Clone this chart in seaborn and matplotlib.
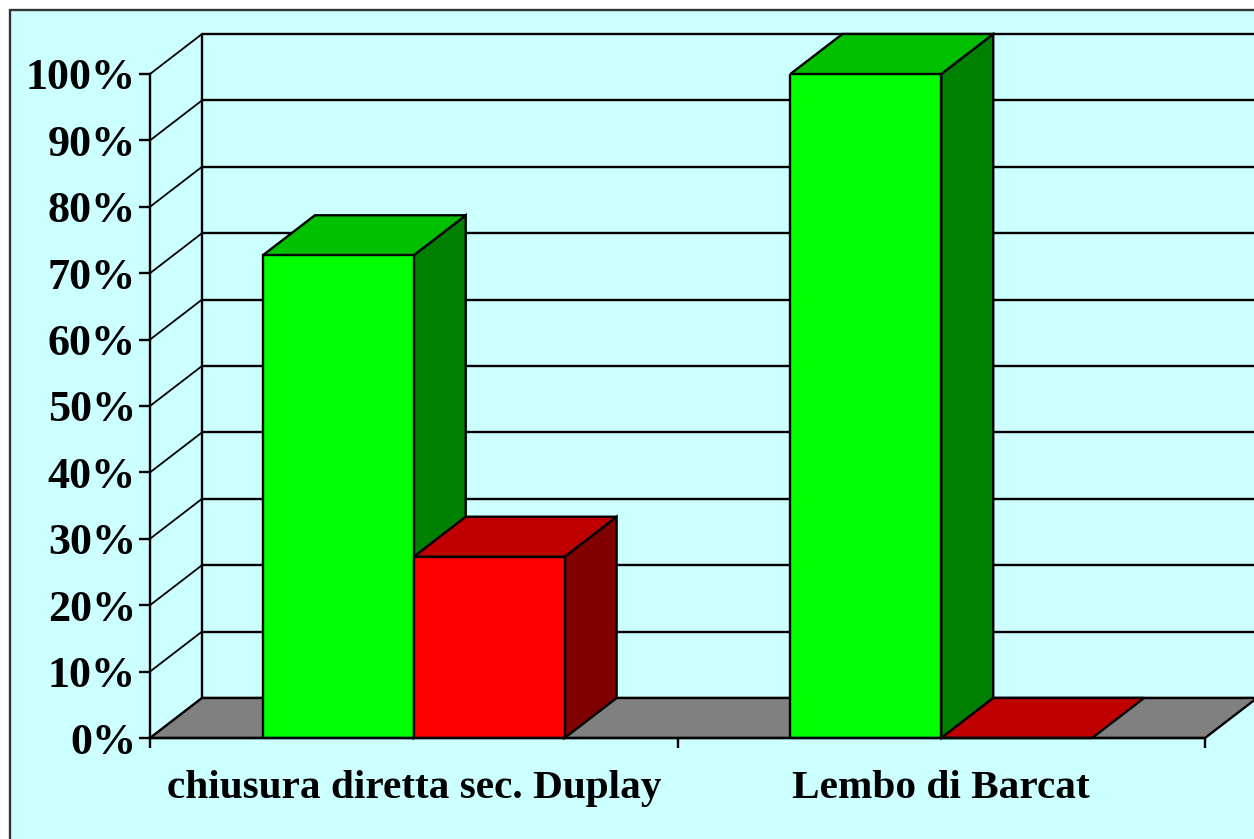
import matplotlib
matplotlib.use("Agg")
import matplotlib.pyplot as plt
import matplotlib.transforms as mtrans
from matplotlib.patches import Polygon, Rectangle
import pandas as pd
import seaborn as sns

# === Data ===
groups = ["chiusura diretta sec. Duplay", "Lembo di Barcat"]
series_names = ["si", "no"]
si_values = [72.7, 100]
no_values = [27.3, 0]
y_ticks = list(range(0, 101, 10))

front_colors = ["#00FF00", "#FF0000"]
top_colors = ["#00C000", "#C00000"]
side_colors = ["#008000", "#800000"]
bg_color = "#CCFFFF"
floor_color = "#808080"

df = pd.DataFrame({
    "group": groups * 2,
    "series": [series_names[0]] * 2 + [series_names[1]] * 2,
    "value": si_values + no_values,
})

# === Style ===
W, H = 1254, 839
DEPTH_X, DEPTH_Y = 52, 40  # pixels, the fake 3D offset
LW = 1.7

sns.set_theme(style="ticks")
plt.rcParams.update({
    "font.family": "Liberation Serif",
    "font.weight": "bold",
    "axes.facecolor": "none",
    "figure.facecolor": "white",
    "text.color": "black",
    "xtick.color": "black",
    "ytick.color": "black",
    "axes.edgecolor": "black",
})

fig = plt.figure(figsize=(W / 100, H / 100), dpi=100)
ax = fig.add_axes([150 / W, (H - 738) / H, 1055 / W, 664 / H])

# chart area, its border runs off the right and bottom of the picture
fig.add_artist(Rectangle((10 / W, -0.05), 1.1, 1.05 - 10 / H, transform=fig.transFigure,
                         facecolor=bg_color, edgecolor="#333333", linewidth=LW, zorder=-5))

# === Front faces ===
sns.barplot(data=df, x="group", y="value", hue="series", order=groups, hue_order=series_names,
            palette=dict(zip(series_names, front_colors)), width=0.572, gap=0, dodge=True,
            saturation=1, edgecolor="black", linewidth=LW, legend=False, ax=ax)
ax.set_xlim(-0.5, 1.5)
ax.set_ylim(0, 100)
ax.set_xlabel("")
ax.set_ylabel("")

fig.canvas.draw()


def to_back(pt):
    return (pt[0] + DEPTH_X, pt[1] + DEPTH_Y)


def add_face(points, color, z):
    ax.add_patch(Polygon(points, closed=True, facecolor=color, edgecolor="black", linewidth=LW,
                         transform=mtrans.IdentityTransform(), clip_on=False, zorder=z,
                         joinstyle="miter"))


# === Back wall, left wall and floor ===
x_left, x_right = ax.get_xlim()
for v in y_ticks:
    front = ax.transData.transform((x_left, v))
    end = ax.transData.transform((x_right, v))
    back = to_back(front)
    ax.plot([front[0], back[0]], [front[1], back[1]], color="black", lw=1.3,
            transform=mtrans.IdentityTransform(), clip_on=False, zorder=1)
    ax.plot([back[0], to_back(end)[0]], [back[1], back[1]], color="black", lw=LW,
            transform=mtrans.IdentityTransform(), clip_on=False, zorder=1)

wall_low = to_back(ax.transData.transform((x_left, 0)))
wall_high = to_back(ax.transData.transform((x_left, 100)))
ax.plot([wall_low[0], wall_high[0]], [wall_low[1], wall_high[1]], color="black", lw=LW,
        transform=mtrans.IdentityTransform(), clip_on=False, zorder=1)

floor_a = ax.transData.transform((x_left, 0))
floor_b = ax.transData.transform((x_right, 0))
add_face([floor_a, floor_b, to_back(floor_b), to_back(floor_a)], floor_color, 2)

# === Side and top faces, drawn from the bars seaborn made ===
z = 3
for group_i in range(len(groups)):
    for series_i, container in enumerate(ax.containers):
        bar = container[group_i]
        x0, x1 = bar.get_x(), bar.get_x() + bar.get_width()
        height = bar.get_height()
        bl = ax.transData.transform((x0, 0))
        br = ax.transData.transform((x1, 0))
        tl = ax.transData.transform((x0, height))
        tr = ax.transData.transform((x1, height))
        if height > 0:
            add_face([br, tr, to_back(tr), to_back(br)], side_colors[series_i], z)
        add_face([tl, tr, to_back(tr), to_back(tl)], top_colors[series_i], z + 0.1)
        bar.set_zorder(z + 0.2)
        z += 1

# === Axes ===
sns.despine(ax=ax)
for side in ["left", "bottom"]:
    ax.spines[side].set_linewidth(LW)
    ax.spines[side].set_zorder(z + 1)

ax.set_yticks(y_ticks, labels=[f"{v}%" for v in y_ticks])
ax.set_xticks([-0.5, 0.5, 1.5], labels=["", "", ""])
ax.set_xticks([0, 1], labels=groups, minor=True)
ax.tick_params(axis="y", length=8, width=LW, pad=2, labelsize=31.8)
ax.tick_params(axis="x", which="major", length=7.5, width=LW)
ax.tick_params(axis="x", which="minor", length=0, pad=23, labelsize=29.7)

fig.savefig("out.png", dpi=100)
